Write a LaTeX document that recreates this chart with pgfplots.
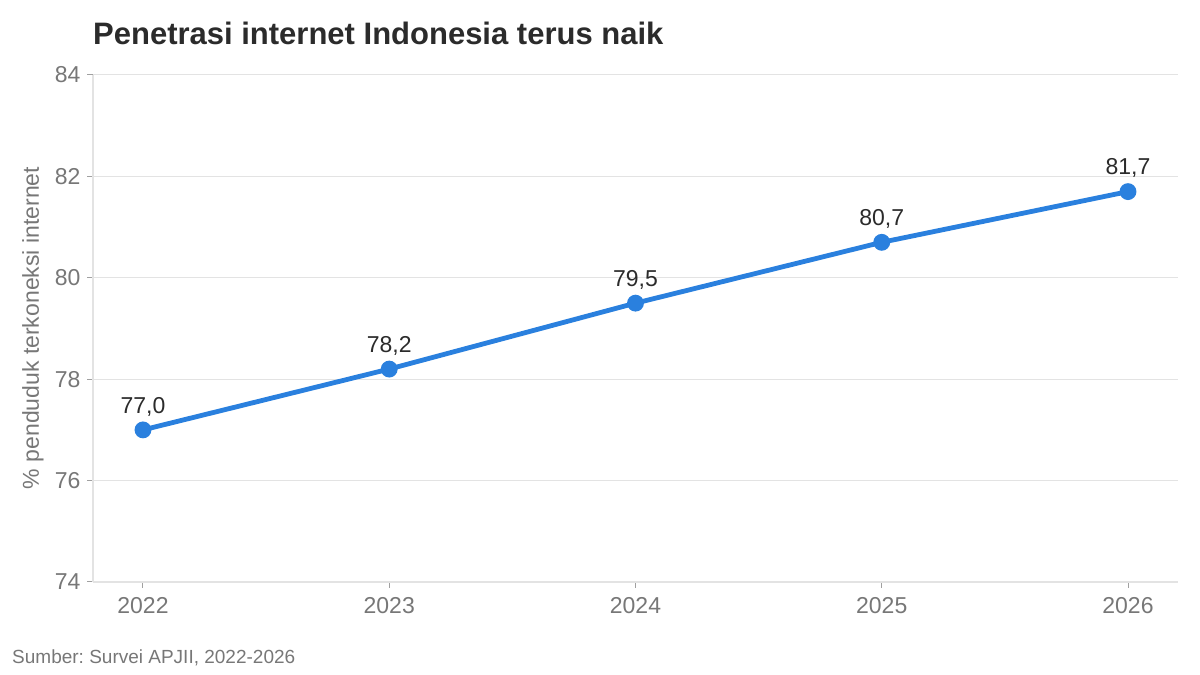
\documentclass[border=0pt]{standalone}
\usepackage{pgfplots}
\pgfplotsset{compat=1.18}
\usepackage{fontspec}
\setmainfont{Liberation Sans}
\frenchspacing
\definecolor{linecol}{HTML}{2A80DE}
\definecolor{titlecol}{HTML}{2B2B2B}
\definecolor{tickcol}{HTML}{777777}
\definecolor{gridcol}{HTML}{E3E3E3}
\begin{document}
\begin{tikzpicture}[x=1pt,y=1pt]
\useasboundingbox (0,0) rectangle (1200,675);
\begin{axis}[
  at={(93pt,93pt)}, anchor=south west,
  scale only axis, width=1085pt, height=507pt,
  xmin=2021.797, xmax=2026.203,
  ymin=74, ymax=84,
  xtick={2022,2023,2024,2025,2026},
  xticklabels={2022,2023,2024,2025,2026},
  ytick={74,76,78,80,82,84},
  ymajorgrids, grid style={gridcol, line width=1pt},
  axis x line*=bottom, axis y line*=left,
  axis line style={gridcol, line width=1.2pt},
  x axis line style={-}, y axis line style={-},
  tick style={color=tickcol!70, line width=1pt},
  tick align=outside, major tick length=6pt,
  ticklabel style={font=\fontsize{23}{26}\selectfont, color=tickcol},
  /pgf/number format/assume math mode=true,
  xticklabel style={yshift=-6pt},
  yticklabel style={xshift=-3pt},
  clip=false,
]
\addplot[linecol, line width=4.8pt, mark=*, mark size=6pt,
  nodes near coords, point meta=explicit symbolic,
  every node near coord/.style={font=\fontsize{23}{26}\selectfont, color=titlecol, yshift=8pt}]
  table[meta=lab] {
x y lab
2022 77.0 {77,0}
2023 78.2 {78,2}
2024 79.5 {79,5}
2025 80.7 {80,7}
2026 81.7 {81,7}
};
\end{axis}
\node[rotate=90, font=\fontsize{23}{26}\selectfont, color=tickcol, inner sep=0pt] at (33,347) {\% penduduk terkoneksi internet};
\node[anchor=base west, font=\bfseries\fontsize{31}{34}\selectfont, color=titlecol, inner sep=0pt] at (93,630) {Penetrasi internet Indonesia terus naik};
\node[anchor=base west, font=\fontsize{19}{22}\selectfont, color=tickcol, inner sep=0pt] at (12,11) {Sumber: Survei APJII, 2022-2026};
\end{tikzpicture}
\end{document}
